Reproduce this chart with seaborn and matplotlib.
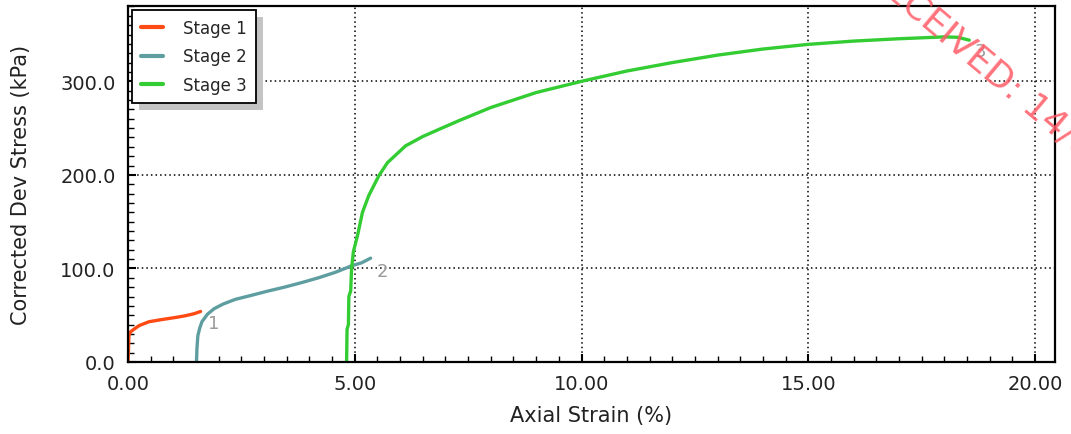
import numpy as np
import pandas as pd
import matplotlib
matplotlib.use("Agg")
import matplotlib.pyplot as plt
from matplotlib.patches import Rectangle
from matplotlib.ticker import MultipleLocator, FormatStrFormatter
import seaborn as sns

# Stress-strain readings for each loading stage
stage1_strain = [0.00, 0.01, 0.02, 0.05, 0.13, 0.25, 0.46, 0.70, 0.90, 1.10, 1.27, 1.45, 1.60]
stage1_stress = [0.0, 12.0, 28.0, 32.0, 35.0, 39.0, 43.0, 45.0, 46.5, 48.0, 49.5, 51.5, 54.0]

stage2_strain = [1.51, 1.52, 1.54, 1.58, 1.63, 1.75, 1.90, 2.10, 2.37, 2.70, 3.10, 3.45, 3.84, 4.20, 4.58, 4.94, 5.15, 5.35]
stage2_stress = [0.0, 14.0, 28.0, 36.0, 43.0, 51.0, 57.0, 62.0, 67.0, 71.0, 76.0, 80.0, 85.0, 90.0, 96.0, 103.0, 106.0, 111.0]

stage3_strain = [4.82, 4.83, 4.86, 4.87, 4.91, 4.93, 4.97, 5.06, 5.17, 5.31, 5.53, 5.72, 6.12, 6.50,
                 6.92, 7.30, 8.00, 9.00, 10.00, 11.00, 12.00, 13.00, 14.00, 15.00, 16.00, 17.00,
                 18.00, 18.30, 18.55]
stage3_stress = [0.0, 35.0, 40.0, 70.0, 76.0, 100.0, 118.0, 135.0, 160.0, 178.0, 199.0, 213.0, 231.0, 241.0,
                 250.0, 258.0, 272.0, 288.0, 300.0, 311.0, 320.0, 328.0, 334.5, 339.5, 343.0, 345.5,
                 347.5, 347.0, 344.0]

stage_names = ["Stage 1", "Stage 2", "Stage 3"]
stage_colors = ["#ff4a14", "#5f9ea0", "#33cc33"]

# End-of-stage markers
end_labels = ["1", "2", "3"]
end_label_x = [1.90, 5.60, 18.80]
end_label_y = [42.0, 97.0, 332.0]

x_ticks = [0.0, 5.0, 10.0, 15.0, 20.0]
y_ticks = [0.0, 100.0, 200.0, 300.0]

frames = []
for name, xs, ys in [(stage_names[0], stage1_strain, stage1_stress),
                     (stage_names[1], stage2_strain, stage2_stress),
                     (stage_names[2], stage3_strain, stage3_stress)]:
    frames.append(pd.DataFrame({"Axial Strain (%)": xs,
                                "Corrected Dev Stress (kPa)": ys,
                                "Stage": name}))
df = pd.concat(frames, ignore_index=True)

sns.set_style("white")
plt.rcParams["font.family"] = ["DejaVu Sans"]

fig = plt.figure(figsize=(10.71, 4.35), dpi=100)
ax = fig.add_axes([128 / 1071, 72 / 435, (1055 - 128) / 1071, (363 - 7) / 435])

sns.lineplot(data=df, x="Axial Strain (%)", y="Corrected Dev Stress (kPa)",
             hue="Stage", palette=dict(zip(stage_names, stage_colors)),
             sort=False, estimator=None, units="Stage", linewidth=2.4,
             ax=ax, legend=True)

ax.set_xlim(0, 20.44)
ax.set_ylim(0, 380.5)

ax.set_xticks(x_ticks)
ax.set_yticks(y_ticks)
ax.xaxis.set_major_formatter(FormatStrFormatter("%.2f"))
ax.yaxis.set_major_formatter(FormatStrFormatter("%.1f"))
ax.xaxis.set_minor_locator(MultipleLocator(0.5))
ax.yaxis.set_minor_locator(MultipleLocator(10))

ax.tick_params(axis="both", which="major", direction="in", length=6, width=1.5,
               labelsize=14, labelcolor="#222222", color="black",
               bottom=True, left=True, top=False, right=False)
ax.tick_params(axis="x", which="major", pad=9)
ax.tick_params(axis="y", which="major", pad=9)
ax.tick_params(axis="both", which="minor", direction="in", length=4, width=1.0,
               color="black", bottom=True, left=True, top=False, right=False)

for side in ["left", "bottom", "top", "right"]:
    ax.spines[side].set_visible(True)
    ax.spines[side].set_color("black")
    ax.spines[side].set_linewidth(1.6)

ax.grid(True, which="major", color="black", linestyle=(0, (1, 2)), linewidth=1.1)
ax.set_axisbelow(True)

ax.set_xlabel("Axial Strain (%)", fontsize=15, color="#222222", labelpad=8)
ax.set_ylabel("Corrected Dev Stress (kPa)", fontsize=15, color="#222222", labelpad=21)

for lab, lx, ly in zip(end_labels, end_label_x, end_label_y):
    ax.text(lx, ly, lab, fontsize=13, color="#9a9a9a", ha="center", va="center")

leg = ax.legend(loc="upper left", bbox_to_anchor=(4 / 927, 1 - 4 / 356),
                borderaxespad=0, frameon=True, fancybox=False,
                edgecolor="black", framealpha=1, fontsize=12,
                handlelength=1.3, handletextpad=1.2, borderpad=0.55,
                labelspacing=0.62, title=None)
leg.get_frame().set_linewidth(1.3)
for line in leg.get_lines():
    line.set_linewidth(3.0)
leg.set_zorder(6)

# Drop shadow behind the legend box
fig.canvas.draw()
bb = leg.get_window_extent().transformed(ax.transAxes.inverted())
dx = 7 / (ax.bbox.width)
dy = 7 / (ax.bbox.height)
ax.add_patch(Rectangle((bb.x0 + dx, bb.y0 - dy), bb.width, bb.height,
                       transform=ax.transAxes, facecolor="#c4c4c4",
                       edgecolor="none", zorder=5.5, clip_on=False))

# Receipt stamp across the top-right corner
fig.text(870 / 1071, 1 + 31 / 435, "RECEIVED: 14/0", rotation=-40,
         rotation_mode="anchor", ha="left", va="center", fontsize=26,
         color="#ff5a66", alpha=0.85)

fig.savefig("out.png", dpi=100)
